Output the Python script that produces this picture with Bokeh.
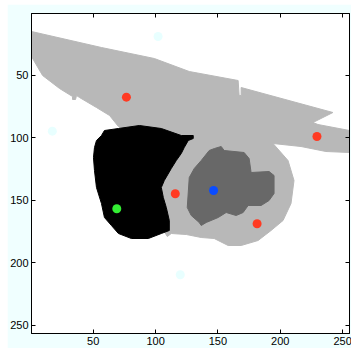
from bokeh.plotting import figure
from bokeh.models import Range1d, FixedTicker, LinearAxis
from bokeh.embed import file_html
from bokeh.resources import INLINE

# ---- data (image coordinates: column, row) ----
tick_values = [50, 100, 150, 200, 250]

light_gray_x = [0.5, 56.6, 99.0, 127.0, 166.2, 167.0, 168.6, 168.6, 242.2, 226.2, 230.2, 255.5,
                255.5, 236.6, 216.6, 194.2, 206.2, 211.0, 208.6, 202.2, 192.6, 182.2, 168.6, 158.2,
                147.0, 136.6, 124.6, 112.6, 109.4, 96.6, 88.6, 70.2, 63.1, 52.6, 39.0, 36.6, 35.8,
                33.4, 33.4, 23.0, 9.4, 1.4, 0.5]
light_gray_y = [14.9, 27.7, 36.5, 46.9, 54.1, 66.1, 66.1, 59.7, 79.7, 87.7, 89.3, 94.1,
                111.7, 110.9, 106.9, 104.5, 118.1, 134.1, 152.5, 166.1, 174.1, 182.1, 186.1, 186.1,
                180.5, 179.7, 177.3, 176.5, 178.9, 157.9, 102.1, 90.9, 82.1, 75.7, 67.7, 66.1, 69.3,
                69.3, 66.9, 60.5, 50.1, 36.5, 36.5]

dark_gray_x = [147.2, 152.6, 155.0, 171.0, 175.0, 176.6, 191.0, 195.0, 195.0, 191.0, 184.6, 174.2,
               170.2, 164.6, 156.6, 150.2, 140.6, 136.6, 135.0, 128.6, 125.4, 127.0, 131.0, 136.6, 143.0]
dark_gray_y = [108.5, 106.9, 110.1, 111.7, 116.5, 127.7, 126.9, 130.1, 144.5, 150.1, 154.1, 154.1,
               159.7, 162.1, 159.7, 163.7, 167.7, 170.1, 167.7, 162.1, 155.7, 131.7, 124.5, 118.1, 110.1]

black_x = [56.6, 59.0, 70.2, 87.0, 104.6, 120.6, 130.2, 130.2, 126.2, 123.0, 120.6, 116.6, 112.6,
           107.0, 104.6, 106.2, 108.6, 111.0, 111.0, 104.6, 94.2, 80.6, 70.2, 64.6, 59.0, 56.6,
           52.6, 51.0, 50.2, 51.0, 52.6]
black_y = [98.1, 94.1, 92.5, 90.1, 92.5, 98.1, 98.1, 100.5, 102.1, 107.7, 112.5, 118.1, 124.5,
           134.1, 139.7, 147.7, 155.7, 166.1, 174.1, 176.5, 180.5, 180.5, 176.5, 170.1, 163.7, 152.5,
           139.7, 126.1, 115.7, 107.7, 102.1]

red_x = [76.6, 229.4, 115.8, 181.4]
red_y = [67.4, 98.9, 144.7, 168.7]
blue_x = [146.5]
blue_y = [142.1]
green_x = [68.9]
green_y = [156.7]
pale_x = [102.0, 17.2, 119.8]
pale_y = [18.9, 94.6, 209.5]

# ---- figure ----
p = figure(frame_width=318, frame_height=320, output_backend="svg", toolbar_location=None,
           x_range=Range1d(0.5, 255.5), y_range=Range1d(256.5, 0.5),
           min_border_left=23, min_border_top=9, min_border_right=3, min_border_bottom=15)
p.margin = (4, 0, 0, 7)
p.border_fill_color = "#F0FFFF"
p.background_fill_color = "white"
p.outline_line_color = "black"
p.outline_line_width = 1
p.grid.visible = False

p.patches([light_gray_x], [light_gray_y], fill_color="#B8B8B8", line_color="#B8B8B8", line_width=1)
p.patches([dark_gray_x], [dark_gray_y], fill_color="#686868", line_color="#686868", line_width=1)
p.patches([black_x], [black_y], fill_color="black", line_color="black", line_width=1)

p.scatter(pale_x, pale_y, size=9, fill_color="#E8FFFF", line_color=None)
p.scatter(red_x, red_y, size=9, fill_color="#FF3A22", line_color=None)
p.scatter(blue_x, blue_y, size=9, fill_color="#0A4CFF", line_color=None)
p.scatter(green_x, green_y, size=9, fill_color="#33EE33", line_color=None)

for ax in [p.xaxis[0], p.yaxis[0]]:
    ax.ticker = FixedTicker(ticks=tick_values)
    ax.major_tick_in = 4
    ax.major_tick_out = 0
    ax.minor_tick_line_color = None
    ax.axis_line_color = "black"
    ax.major_tick_line_color = "black"
    ax.major_label_text_font = "Liberation Sans"
    ax.major_label_text_font_size = "11px"
    ax.major_label_text_color = "black"
    ax.major_label_standoff = 3

for loc in ["above", "right"]:
    a = LinearAxis(ticker=FixedTicker(ticks=tick_values), major_tick_in=4, major_tick_out=0,
                   minor_tick_line_color=None, major_label_text_font_size="0px",
                   axis_line_color="black", major_tick_line_color="black")
    a.major_label_text_color = None
    a.major_label_standoff = 0
    p.add_layout(a, loc)

open("out.html", "w").write(file_html(p, INLINE))
